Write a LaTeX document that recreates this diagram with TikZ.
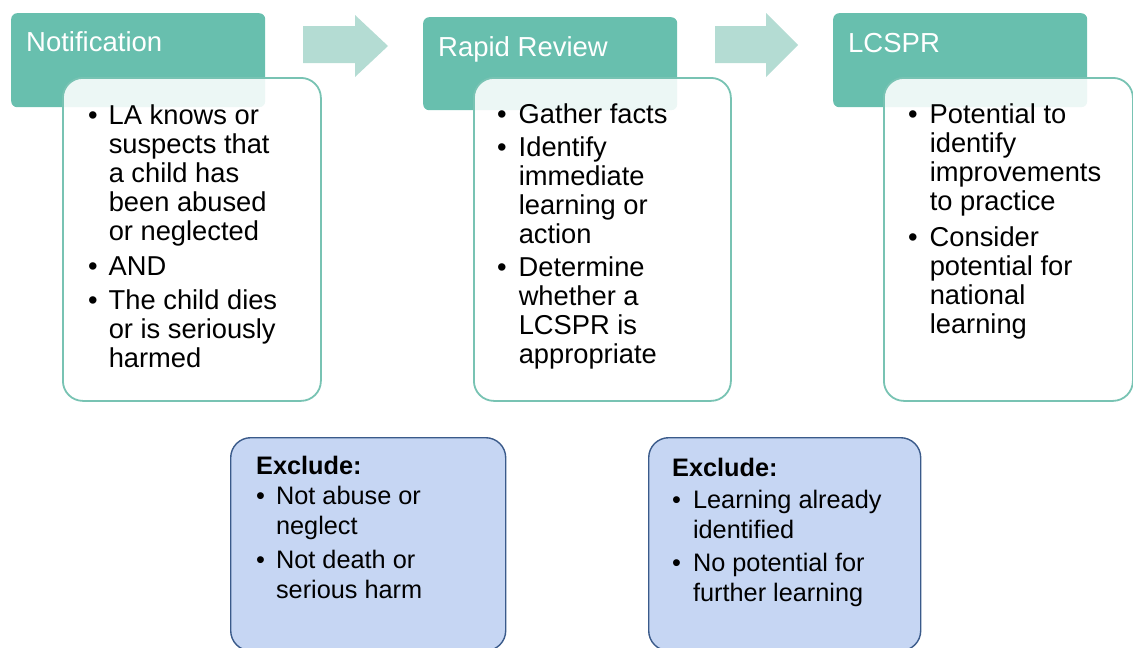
\documentclass[tikz,border=0pt]{standalone}
\usepackage{fontspec}
\setmainfont{Liberation Sans}
\definecolor{hdrc}{HTML}{68BFAE}
\definecolor{arwc}{HTML}{B4DCD3}
\definecolor{brdc}{HTML}{78C3B3}
\definecolor{exfill}{HTML}{C6D6F3}
\definecolor{exbrd}{HTML}{3A5A8A}
\newcommand{\bl}{\textbullet}
\tikzset{
  hdr/.style={fill=hdrc, draw=none, rounded corners=6pt, anchor=north west, inner sep=0pt},
  content/.style={draw=brdc, line width=1.8pt, fill=white, fill opacity=0.88, rounded corners=20pt, anchor=north west, inner sep=0pt},
  excl/.style={draw=exbrd, line width=1.4pt, fill=exfill, rounded corners=20pt, anchor=north west, inner sep=0pt},
  htext/.style={anchor=base west, inner sep=0pt, text=white, font=\fontsize{27.5}{30}\selectfont},
  btext/.style={anchor=base west, inner sep=0pt, text=black, font=\fontsize{27.3}{29}\selectfont},
  etext/.style={anchor=base west, inner sep=0pt, text=black, font=\fontsize{25.3}{30}\selectfont},
  blockarrow/.style={fill=arwc, draw=none},
}
\begin{document}
\begin{tikzpicture}[x=1pt,y=-1pt]
\useasboundingbox (0,0) rectangle (1133,648);

% block arrows
\fill[blockarrow] (303,26) -- (355,26) -- (355,15) -- (388,46) -- (355,77) -- (355,63) -- (303,63) -- cycle;
\fill[blockarrow] (715,26) -- (766,26) -- (766,13) -- (798,45) -- (766,77) -- (766,63) -- (715,63) -- cycle;

% headers
\node[hdr, minimum width=254pt, minimum height=94pt] (h1) at (11,13) {};
\node[hdr, minimum width=254pt, minimum height=93pt] (h2) at (423,17) {};
\node[hdr, minimum width=254pt, minimum height=94pt] (h3) at (833,13) {};
\node[htext] (h1t) at (26,51) {Notification};
\node[htext] (h2t) at (438,56) {Rapid Review};
\node[htext] (h3t) at (848,52) {LCSPR};

% content boxes
\node[content, minimum width=258pt, minimum height=323pt] (c1) at (62,77) {};
\node[content, minimum width=257pt, minimum height=323pt] (c2) at (473,77) {};
\node[content, minimum width=249pt, minimum height=323pt] (c3) at (883,77) {};

\node[btext] (c1t) at (88,124) {\begin{tabular}[t]{@{}l@{\hspace{11pt}}l@{}}
\bl & LA knows or\\
    & suspects that\\
    & a child has\\
    & been abused\\
    & or neglected\\[6pt]
\bl & AND\\[5pt]
\bl & The child dies\\
    & or is seriously\\
    & harmed
\end{tabular}};

\node[btext] (c2t) at (497,123) {\begin{tabular}[t]{@{}l@{\hspace{12pt}}l@{}}
\bl & Gather facts\\[4pt]
\bl & Identify\\
    & immediate\\
    & learning or\\
    & action\\[4pt]
\bl & Determine\\
    & whether a\\
    & LCSPR is\\
    & appropriate
\end{tabular}};

\node[btext] (c3t) at (908,123) {\begin{tabular}[t]{@{}l@{\hspace{12pt}}l@{}}
\bl & Potential to\\
    & identify\\
    & improvements\\
    & to practice\\[7pt]
\bl & Consider\\
    & potential for\\
    & national\\
    & learning
\end{tabular}};

% exclude boxes
\node[excl, minimum width=275pt, minimum height=213pt] (e1) at (230,437) {};
\node[excl, minimum width=272pt, minimum height=213pt] (e2) at (648,437) {};

\node[etext] (e1t) at (256,474) {\begin{tabular}[t]{@{}l@{\hspace{11pt}}l@{}}
\multicolumn{2}{@{}l@{}}{\textbf{Exclude:}}\\
\bl & Not abuse or\\
    & neglect\\[4pt]
\bl & Not death or\\
    & serious harm
\end{tabular}};

\node[etext] (e2t) at (672,476) {\begin{tabular}[t]{@{}l@{\hspace{12pt}}l@{}}
\multicolumn{2}{@{}l@{}}{\textbf{Exclude:}}\\[2pt]
\bl & Learning already\\
    & identified\\[3pt]
\bl & No potential for\\
    & further learning
\end{tabular}};
\end{tikzpicture}
\end{document}
